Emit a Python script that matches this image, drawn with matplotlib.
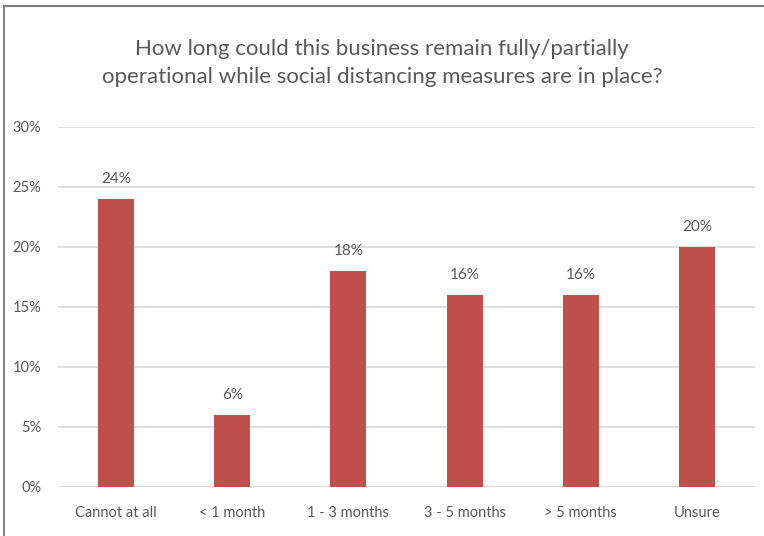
import matplotlib
matplotlib.use("Agg")
import matplotlib.pyplot as plt
from matplotlib.lines import Line2D
from matplotlib.ticker import FuncFormatter

categories = ["Cannot at all", "< 1 month", "1 - 3 months", "3 - 5 months", "> 5 months", "Unsure"]
values = [24, 6, 18, 16, 16, 20]
yticks = [0, 5, 10, 15, 20, 25, 30]

plt.rcParams['font.family'] = ['Lato', 'DejaVu Sans']
txt = '#595959'

fig = plt.figure(figsize=(7.64, 5.36), dpi=100)
ax = fig.add_axes([58/764, 1 - 487/536, (755-58)/764, (487-127)/536])

x = list(range(len(categories)))
ax.bar(x, values, width=0.31, color='#C0504D', zorder=3)
for xi, v in zip(x, values):
    ax.text(xi, v + 1.1, f"{v}%", ha='center', va='bottom', fontsize=11, color=txt)

ax.set_xlim(-0.5, len(categories) - 0.5)
ax.set_ylim(0, 30)
ax.set_yticks(yticks)
ax.yaxis.set_major_formatter(FuncFormatter(lambda v, p: f"{int(v)}%"))
ax.set_xticks(x)
ax.set_xticklabels(categories)
ax.tick_params(axis='both', length=0, labelsize=10.5, labelcolor=txt)
ax.tick_params(axis='x', pad=14)
ax.tick_params(axis='y', pad=12)
ax.grid(axis='y', color='#D9D9D9', linewidth=1.2, zorder=0)
for s in ax.spines.values():
    s.set_visible(False)
ax.axhline(0, color='#D9D9D9', linewidth=1.5, zorder=2)

fig.text(0.5, 1 - 63/536, "How long could this business remain fully/partially\noperational while social distancing measures are in place?",
         ha='center', va='center', fontsize=16, color=txt, linespacing=1.55)

# outer frame
fig.add_artist(Line2D([4/764, 4/764], [0, 1 - 6/536], transform=fig.transFigure, color='#7F7F7F', linewidth=1.5))
fig.add_artist(Line2D([4/764, 1], [1 - 6/536, 1 - 6/536], transform=fig.transFigure, color='#7F7F7F', linewidth=1.5))

fig.savefig("out.png", dpi=100)
